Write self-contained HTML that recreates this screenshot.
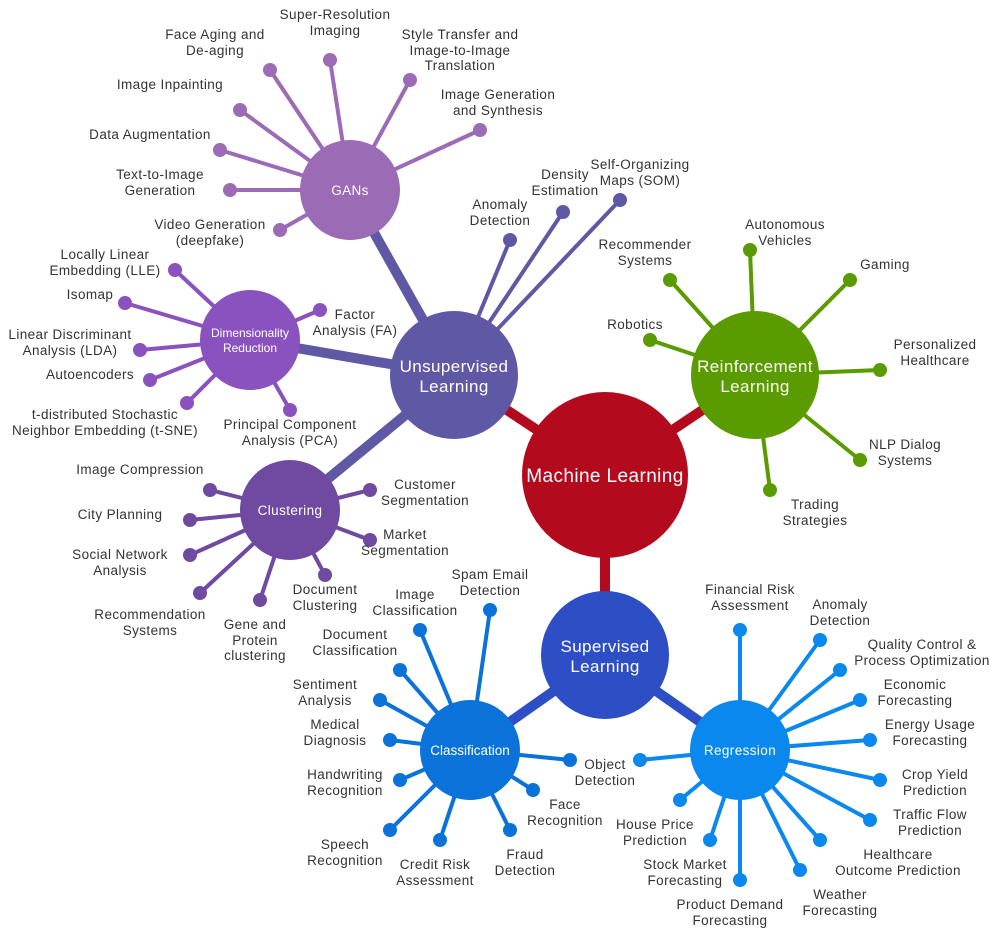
<!DOCTYPE html>
<html><head><meta charset="utf-8"><style>
html,body{margin:0;padding:0;background:#fff;width:995px;height:930px;overflow:hidden}
svg{display:block}
text{font-family:"Liberation Sans",sans-serif;font-size:13.5px;letter-spacing:0.4px;fill:#333;text-anchor:middle}
.w{fill:#fff}
</style></head><body>
<svg width="995" height="930" viewBox="0 0 995 930" xmlns="http://www.w3.org/2000/svg">
<g stroke-linecap="butt">
<line x1="605" y1="475" x2="454" y2="375" stroke="#b30a1e" stroke-width="10"/>
<line x1="605" y1="475" x2="755" y2="375" stroke="#b30a1e" stroke-width="10"/>
<line x1="605" y1="475" x2="605" y2="655" stroke="#b30a1e" stroke-width="10"/>
<line x1="454" y1="375" x2="350" y2="190" stroke="#5f58a5" stroke-width="10"/>
<line x1="454" y1="375" x2="250" y2="340" stroke="#5f58a5" stroke-width="10"/>
<line x1="454" y1="375" x2="290" y2="510" stroke="#5f58a5" stroke-width="10"/>
<line x1="605" y1="655" x2="470" y2="750" stroke="#2e4ec6" stroke-width="10"/>
<line x1="605" y1="655" x2="740" y2="750" stroke="#2e4ec6" stroke-width="10"/>
</g>
<g stroke="#9b6bb5" stroke-width="4" fill="#9b6bb5">
<line x1="350" y1="190" x2="270" y2="70"/><circle cx="270" cy="70" r="5"/>
<line x1="350" y1="190" x2="330" y2="60"/><circle cx="330" cy="60" r="5"/>
<line x1="350" y1="190" x2="410" y2="80"/><circle cx="410" cy="80" r="5"/>
<line x1="350" y1="190" x2="480" y2="130"/><circle cx="480" cy="130" r="5"/>
<line x1="350" y1="190" x2="240" y2="110"/><circle cx="240" cy="110" r="5"/>
<line x1="350" y1="190" x2="220" y2="150"/><circle cx="220" cy="150" r="5"/>
<line x1="350" y1="190" x2="230" y2="190"/><circle cx="230" cy="190" r="5"/>
<line x1="350" y1="190" x2="280" y2="230"/><circle cx="280" cy="230" r="5"/>
</g>
<g stroke="#8a52bf" stroke-width="4" fill="#8a52bf">
<line x1="250" y1="340" x2="175" y2="270"/><circle cx="175" cy="270" r="5"/>
<line x1="250" y1="340" x2="125" y2="303"/><circle cx="125" cy="303" r="5"/>
<line x1="250" y1="340" x2="140" y2="350"/><circle cx="140" cy="350" r="5"/>
<line x1="250" y1="340" x2="150" y2="380"/><circle cx="150" cy="380" r="5"/>
<line x1="250" y1="340" x2="187" y2="403"/><circle cx="187" cy="403" r="5"/>
<line x1="250" y1="340" x2="290" y2="410"/><circle cx="290" cy="410" r="5"/>
<line x1="250" y1="340" x2="320" y2="310"/><circle cx="320" cy="310" r="5"/>
</g>
<g stroke="#5f58a5" stroke-width="4" fill="#5f58a5">
<line x1="454" y1="375" x2="510" y2="240"/><circle cx="510" cy="240" r="5"/>
<line x1="454" y1="375" x2="563" y2="212"/><circle cx="563" cy="212" r="5"/>
<line x1="454" y1="375" x2="620" y2="200"/><circle cx="620" cy="200" r="5"/>
</g>
<g stroke="#6f4aa0" stroke-width="4" fill="#6f4aa0">
<line x1="290" y1="510" x2="210" y2="490"/><circle cx="210" cy="490" r="5"/>
<line x1="290" y1="510" x2="190" y2="520"/><circle cx="190" cy="520" r="5"/>
<line x1="290" y1="510" x2="190" y2="555"/><circle cx="190" cy="555" r="5"/>
<line x1="290" y1="510" x2="200" y2="593"/><circle cx="200" cy="593" r="5"/>
<line x1="290" y1="510" x2="260" y2="600"/><circle cx="260" cy="600" r="5"/>
<line x1="290" y1="510" x2="325" y2="575"/><circle cx="325" cy="575" r="5"/>
<line x1="290" y1="510" x2="370" y2="490"/><circle cx="370" cy="490" r="5"/>
<line x1="290" y1="510" x2="370" y2="540"/><circle cx="370" cy="540" r="5"/>
</g>
<g stroke="#5a9b00" stroke-width="4" fill="#5a9b00">
<line x1="755" y1="375" x2="670" y2="280"/><circle cx="670" cy="280" r="5"/>
<line x1="755" y1="375" x2="750" y2="250"/><circle cx="750" cy="250" r="5"/>
<line x1="755" y1="375" x2="850" y2="280"/><circle cx="850" cy="280" r="5"/>
<line x1="755" y1="375" x2="650" y2="340"/><circle cx="650" cy="340" r="5"/>
<line x1="755" y1="375" x2="880" y2="370"/><circle cx="880" cy="370" r="5"/>
<line x1="755" y1="375" x2="860" y2="460"/><circle cx="860" cy="460" r="5"/>
<line x1="755" y1="375" x2="770" y2="490"/><circle cx="770" cy="490" r="5"/>
</g>
<g stroke="#0a72d8" stroke-width="4" fill="#0a72d8">
<line x1="470" y1="750" x2="490" y2="610"/><circle cx="490" cy="610" r="5"/>
<line x1="470" y1="750" x2="420" y2="630"/><circle cx="420" cy="630" r="5"/>
<line x1="470" y1="750" x2="400" y2="670"/><circle cx="400" cy="670" r="5"/>
<line x1="470" y1="750" x2="380" y2="700"/><circle cx="380" cy="700" r="5"/>
<line x1="470" y1="750" x2="390" y2="740"/><circle cx="390" cy="740" r="5"/>
<line x1="470" y1="750" x2="400" y2="780"/><circle cx="400" cy="780" r="5"/>
<line x1="470" y1="750" x2="390" y2="830"/><circle cx="390" cy="830" r="5"/>
<line x1="470" y1="750" x2="440" y2="840"/><circle cx="440" cy="840" r="5"/>
<line x1="470" y1="750" x2="510" y2="830"/><circle cx="510" cy="830" r="5"/>
<line x1="470" y1="750" x2="533" y2="790"/><circle cx="533" cy="790" r="5"/>
<line x1="470" y1="750" x2="570" y2="760"/><circle cx="570" cy="760" r="5"/>
</g>
<g stroke="#0a88ee" stroke-width="4" fill="#0a88ee">
<line x1="740" y1="750" x2="740" y2="630"/><circle cx="740" cy="630" r="5"/>
<line x1="740" y1="750" x2="820" y2="640"/><circle cx="820" cy="640" r="5"/>
<line x1="740" y1="750" x2="840" y2="670"/><circle cx="840" cy="670" r="5"/>
<line x1="740" y1="750" x2="860" y2="700"/><circle cx="860" cy="700" r="5"/>
<line x1="740" y1="750" x2="870" y2="740"/><circle cx="870" cy="740" r="5"/>
<line x1="740" y1="750" x2="880" y2="780"/><circle cx="880" cy="780" r="5"/>
<line x1="740" y1="750" x2="870" y2="820"/><circle cx="870" cy="820" r="5"/>
<line x1="740" y1="750" x2="820" y2="840"/><circle cx="820" cy="840" r="5"/>
<line x1="740" y1="750" x2="800" y2="870"/><circle cx="800" cy="870" r="5"/>
<line x1="740" y1="750" x2="740" y2="880"/><circle cx="740" cy="880" r="5"/>
<line x1="740" y1="750" x2="710" y2="840"/><circle cx="710" cy="840" r="5"/>
<line x1="740" y1="750" x2="680" y2="800"/><circle cx="680" cy="800" r="5"/>
<line x1="740" y1="750" x2="640" y2="760"/><circle cx="640" cy="760" r="5"/>
</g>
<circle cx="605" cy="475" r="83" fill="#b30a1e"/>
<circle cx="454" cy="375" r="64" fill="#5f58a5"/>
<circle cx="755" cy="375" r="64" fill="#5a9b00"/>
<circle cx="605" cy="655" r="64" fill="#2e4ec6"/>
<circle cx="350" cy="190" r="50" fill="#9b6bb5"/>
<circle cx="250" cy="340" r="50" fill="#8a52bf"/>
<circle cx="290" cy="510" r="50" fill="#6f4aa0"/>
<circle cx="470" cy="750" r="50" fill="#0a72d8"/>
<circle cx="740" cy="750" r="50" fill="#0a88ee"/>
<text class="w" x="605" y="482" style="font-size:19px">Machine Learning</text>
<text class="w" x="454" y="372" style="font-size:17px">Unsupervised</text>
<text class="w" x="454" y="392" style="font-size:17px">Learning</text>
<text class="w" x="755" y="372" style="font-size:17px">Reinforcement</text>
<text class="w" x="755" y="392" style="font-size:17px">Learning</text>
<text class="w" x="605" y="652" style="font-size:17px">Supervised</text>
<text class="w" x="605" y="672" style="font-size:17px">Learning</text>
<text class="w" x="350" y="195">GANs</text>
<text class="w" x="250" y="337" style="font-size:12px;letter-spacing:0">Dimensionality</text>
<text class="w" x="250" y="352" style="font-size:12px;letter-spacing:0">Reduction</text>
<text class="w" x="290" y="515">Clustering</text>
<text class="w" x="470" y="755" style="letter-spacing:0">Classification</text>
<text class="w" x="740" y="755">Regression</text>
<text x="215" y="39">Face Aging and</text><text x="215" y="55">De-aging</text>
<text x="335" y="19">Super-Resolution</text><text x="335" y="35">Imaging</text>
<text x="460" y="39">Style Transfer and</text><text x="460" y="55">Image-to-Image</text><text x="460" y="70">Translation</text>
<text x="498" y="99">Image Generation</text><text x="498" y="115">and Synthesis</text>
<text x="170" y="89">Image Inpainting</text>
<text x="150" y="139">Data Augmentation</text>
<text x="160" y="179">Text-to-Image</text><text x="160" y="195">Generation</text>
<text x="210" y="229">Video Generation</text><text x="210" y="245">(deepfake)</text>
<text x="105" y="259">Locally Linear</text><text x="105" y="275">Embedding (LLE)</text>
<text x="90" y="299">Isomap</text>
<text x="70" y="339">Linear Discriminant</text><text x="70" y="355">Analysis (LDA)</text>
<text x="90" y="379">Autoencoders</text>
<text x="105" y="419">t-distributed Stochastic</text><text x="105" y="435">Neighbor Embedding (t-SNE)</text>
<text x="290" y="429">Principal Component</text><text x="290" y="445">Analysis (PCA)</text>
<text x="355" y="319">Factor</text><text x="355" y="335">Analysis (FA)</text>
<text x="500" y="209">Anomaly</text><text x="500" y="225">Detection</text>
<text x="565" y="179">Density</text><text x="565" y="195">Estimation</text>
<text x="640" y="169">Self-Organizing</text><text x="640" y="185">Maps (SOM)</text>
<text x="140" y="474">Image Compression</text>
<text x="120" y="519">City Planning</text>
<text x="120" y="559">Social Network</text><text x="120" y="575">Analysis</text>
<text x="150" y="619">Recommendation</text><text x="150" y="635">Systems</text>
<text x="255" y="629">Gene and</text><text x="255" y="645">Protein</text><text x="255" y="660">clustering</text>
<text x="325" y="594">Document</text><text x="325" y="610">Clustering</text>
<text x="425" y="489">Customer</text><text x="425" y="505">Segmentation</text>
<text x="405" y="539">Market</text><text x="405" y="555">Segmentation</text>
<text x="645" y="249">Recommender</text><text x="645" y="265">Systems</text>
<text x="785" y="229">Autonomous</text><text x="785" y="245">Vehicles</text>
<text x="885" y="269">Gaming</text>
<text x="635" y="329">Robotics</text>
<text x="935" y="349">Personalized</text><text x="935" y="365">Healthcare</text>
<text x="905" y="449">NLP Dialog</text><text x="905" y="465">Systems</text>
<text x="815" y="509">Trading</text><text x="815" y="525">Strategies</text>
<text x="490" y="579">Spam Email</text><text x="490" y="595">Detection</text>
<text x="415" y="599">Image</text><text x="415" y="615">Classification</text>
<text x="355" y="639">Document</text><text x="355" y="655">Classification</text>
<text x="325" y="689">Sentiment</text><text x="325" y="705">Analysis</text>
<text x="335" y="729">Medical</text><text x="335" y="745">Diagnosis</text>
<text x="345" y="779">Handwriting</text><text x="345" y="795">Recognition</text>
<text x="345" y="849">Speech</text><text x="345" y="865">Recognition</text>
<text x="435" y="869">Credit Risk</text><text x="435" y="885">Assessment</text>
<text x="525" y="859">Fraud</text><text x="525" y="875">Detection</text>
<text x="565" y="809">Face</text><text x="565" y="825">Recognition</text>
<text x="605" y="769">Object</text><text x="605" y="785">Detection</text>
<text x="750" y="594">Financial Risk</text><text x="750" y="610">Assessment</text>
<text x="840" y="609">Anomaly</text><text x="840" y="625">Detection</text>
<text x="922" y="649">Quality Control &amp;</text><text x="922" y="665">Process Optimization</text>
<text x="915" y="689">Economic</text><text x="915" y="705">Forecasting</text>
<text x="930" y="729">Energy Usage</text><text x="930" y="745">Forecasting</text>
<text x="935" y="779">Crop Yield</text><text x="935" y="795">Prediction</text>
<text x="930" y="819">Traffic Flow</text><text x="930" y="835">Prediction</text>
<text x="898" y="859">Healthcare</text><text x="898" y="875">Outcome Prediction</text>
<text x="840" y="899">Weather</text><text x="840" y="915">Forecasting</text>
<text x="730" y="909">Product Demand</text><text x="730" y="925">Forecasting</text>
<text x="685" y="869">Stock Market</text><text x="685" y="885">Forecasting</text>
<text x="655" y="829">House Price</text><text x="655" y="845">Prediction</text>
</svg>
</body></html>
